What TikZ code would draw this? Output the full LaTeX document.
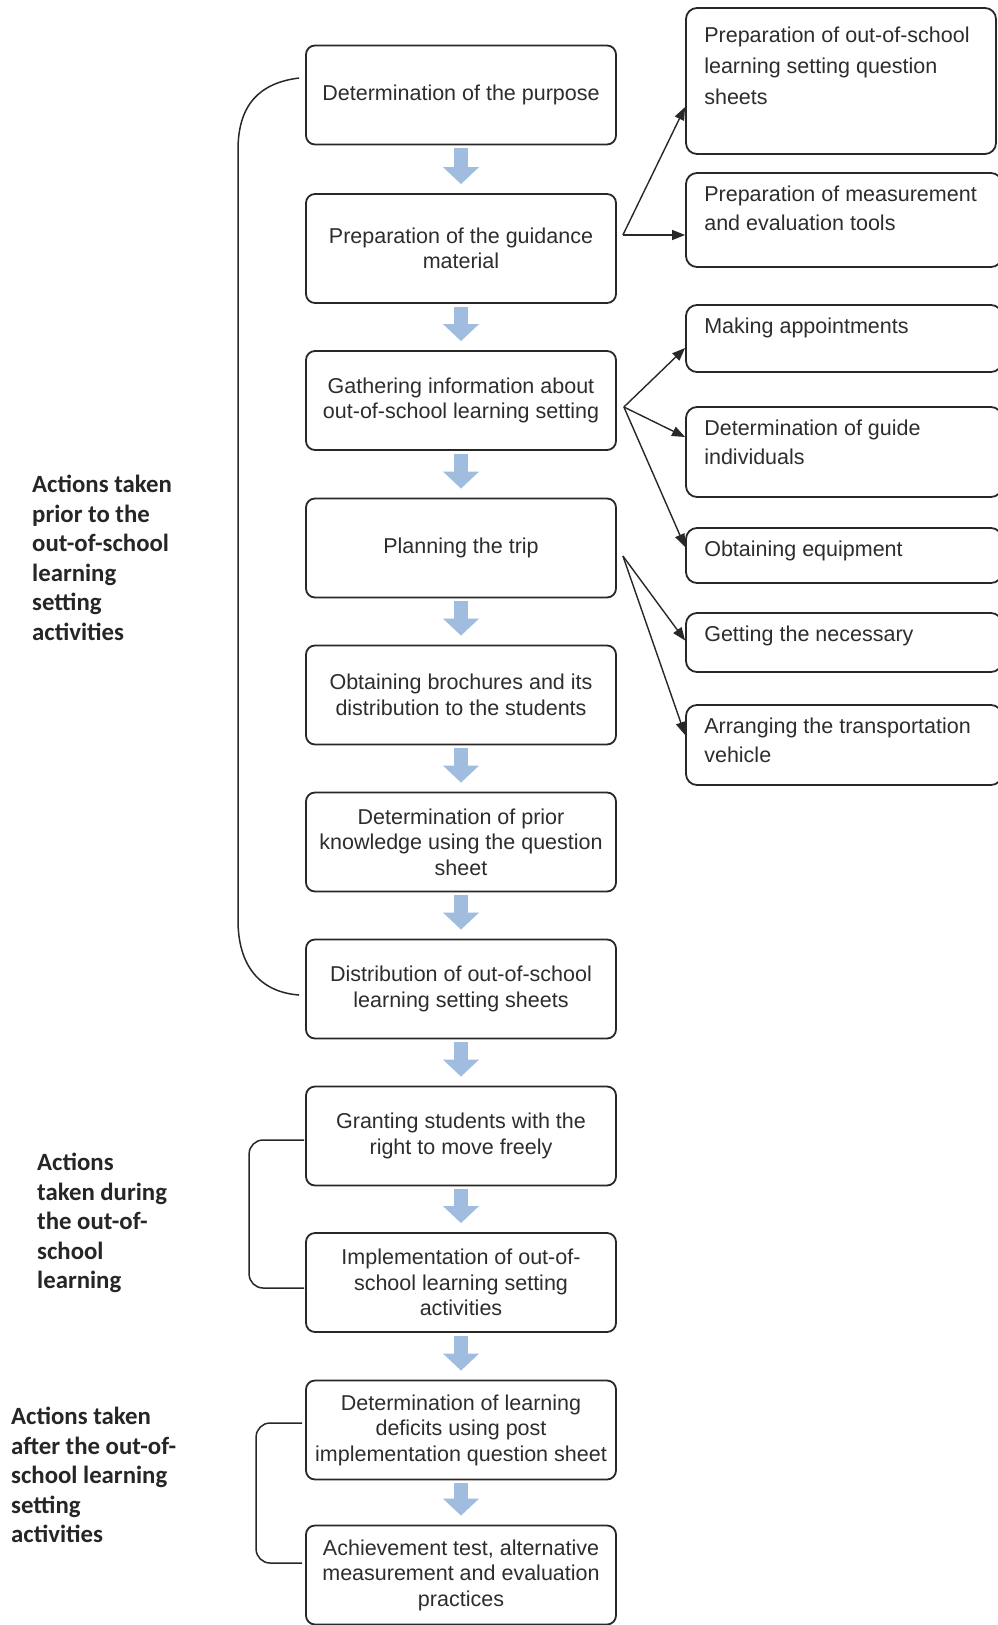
\documentclass[tikz,border=0pt]{standalone}
\usepackage{fontspec}
\setmainfont{Liberation Sans}
\newfontfamily\sidefont{Carlito}
\usetikzlibrary{arrows.meta,positioning,calc}

\definecolor{boxline}{RGB}{40,40,40}
\definecolor{flowblue}{RGB}{160,189,224}
\definecolor{inktext}{RGB}{45,45,45}

\begin{document}
\begin{tikzpicture}[
  x=1pt, y=-1pt,
  >=Stealth,
  every node/.style={font=\fontsize{21.5}{25.5}\selectfont, text=inktext},
  stepnode/.style={rectangle, rounded corners=9pt, draw=boxline, line width=1.8pt, fill=white, minimum width=310pt, minimum height=99pt, align=center, inner sep=3pt},
  sidenode/.style={rectangle, rounded corners=11pt, draw=boxline, line width=1.8pt, fill=white, minimum width=316pt},
  sidetext/.style={anchor=north west, align=left, inner xsep=19pt, inner ysep=14pt, font=\fontsize{21.5}{29}\selectfont},
  phase/.style={anchor=north west, align=left, inner sep=0pt, font=\sidefont\bfseries\fontsize{24.8}{29.5}\selectfont, text=black!85},
  flow/.style={-{Triangle[width=35pt,length=17pt]}, draw=flowblue, line width=14pt, shorten <=3pt, shorten >=9pt},
  branch/.style={-{Triangle[width=10pt,length=13pt]}, draw=boxline, line width=1.4pt},
  brace/.style={draw=boxline, line width=1.5pt}
]
  \fill[white] (0,0) rectangle (997,1625);
  \useasboundingbox (0,0) rectangle (997,1625);

  % main sequence
  \node[stepnode] (purpose) at (461,95) {Determination of the purpose};
  \node[stepnode, minimum height=109pt] (guidance) at (461,248.5) {Preparation of the guidance\\material};
  \node[stepnode] (gather) at (461,400.5) {Gathering information about\\out-of-school learning setting};
  \node[stepnode] (plan) at (461,548) {Planning the trip};
  \node[stepnode] (brochure) at (461,695) {Obtaining brochures and its\\distribution to the students};
  \node[stepnode] (prior) at (461,842) {Determination of prior\\knowledge using the question\\sheet};
  \node[stepnode] (sheets) at (461,989) {Distribution of out-of-school\\learning setting sheets};
  \node[stepnode] (freely) at (461,1136) {Granting students with the\\right to move freely};
  \node[stepnode] (implement) at (461,1282.5) {Implementation of out-of-\\school learning setting\\activities};
  \node[stepnode] (deficit) at (461,1430) {Determination of learning\\deficits using post\\implementation question sheet};
  \node[stepnode] (achieve) at (461,1575) {Achievement test, alternative\\measurement and evaluation\\practices};

  \draw[flow] (purpose) -- (guidance);
  \draw[flow] (guidance) -- (gather);
  \draw[flow] (gather) -- (plan);
  \draw[flow] (plan) -- (brochure);
  \draw[flow] (brochure) -- (prior);
  \draw[flow] (prior) -- (sheets);
  \draw[flow] (sheets) -- (freely);
  \draw[flow] (freely) -- (implement);
  \draw[flow] (implement) -- (deficit);
  \draw[flow] (deficit) -- (achieve);

  % side tasks
  \node[sidenode, minimum width=310pt, minimum height=146pt, label={[sidetext, inner ysep=20pt, font=\fontsize{21.5}{31}\selectfont]north west:{Preparation of out-of-school\\learning setting question\\sheets}}] (qsheet) at (841,81) {};
  \node[sidenode, minimum height=94pt, label={[sidetext]north west:{Preparation of measurement\\and evaluation tools}}] (tools) at (844,220) {};
  \node[sidenode, minimum height=67pt, label={[sidetext]north west:{Making appointments}}] (appoint) at (844,338.5) {};
  \node[sidenode, minimum height=90pt, label={[sidetext]north west:{Determination of guide\\individuals}}] (guide) at (844,452) {};
  \node[sidenode, minimum height=55pt, label={[sidetext]north west:{Obtaining equipment}}] (equip) at (844,555.5) {};
  \node[sidenode, minimum height=59pt, label={[sidetext]north west:{Getting the necessary}}] (permit) at (844,642.5) {};
  \node[sidenode, minimum height=80pt, label={[sidetext]north west:{Arranging the transportation\\vehicle}}] (vehicle) at (844,745) {};

  \coordinate (guidefan) at ([xshift=6pt,yshift=13.5pt]guidance.east);
  \coordinate (gatherfan) at ([xshift=7pt,yshift=-6.5pt]gather.east);
  \coordinate (planfan) at ([xshift=6pt,yshift=-8pt]plan.east);

  \draw[branch] (guidefan) -- ([yshift=-26pt]qsheet.west);
  \draw[branch] (guidefan) -- ([yshift=-15pt]tools.west);
  \draw[branch] (gatherfan) -- ([yshift=-9.5pt]appoint.west);
  \draw[branch] (gatherfan) -- ([yshift=15pt]guide.west);
  \draw[branch] (gatherfan) -- ([yshift=8.5pt]equip.west);
  \draw[branch] (planfan) -- ([yshift=2pt]permit.west);
  \draw[branch] (planfan) -- ([yshift=10pt]vehicle.west);

  % phase brackets
  \coordinate (b1top) at ([xshift=-6pt,yshift=17pt]purpose.west);
  \coordinate (b1bot) at ([xshift=-6pt,yshift=-6pt]sheets.west);
  \draw[brace] (b1top) .. controls +(-40,5) and +(0,-45) .. (238,150) -- (238,920) .. controls +(0,45) and +(-40,-3) .. (b1bot);

  \coordinate (b2top) at ([xshift=-1pt,yshift=-4pt]freely.west);
  \coordinate (b2bot) at ([xshift=-1pt,yshift=-5.5pt]implement.west);
  \draw[brace, rounded corners=14pt] (b2top) -- ++(-55,0) |- (b2bot);

  \coordinate (b3top) at ([xshift=-3pt,yshift=7pt]deficit.west);
  \coordinate (b3bot) at ([xshift=-3pt,yshift=12pt]achieve.west);
  \draw[brace, rounded corners=14pt] (b3top) -- ++(-46,0) |- (b3bot);

  \node[phase] (beforetxt) at (32,475) {Actions taken\\prior to the\\out-of-school\\learning\\setting\\activities};
  \node[phase] (duringtxt) at (37,1153) {Actions\\taken during\\the out-of-\\school\\learning};
  \node[phase] (aftertxt) at (11,1407) {Actions taken\\after the out-of-\\school learning\\setting\\activities};
\end{tikzpicture}
\end{document}
